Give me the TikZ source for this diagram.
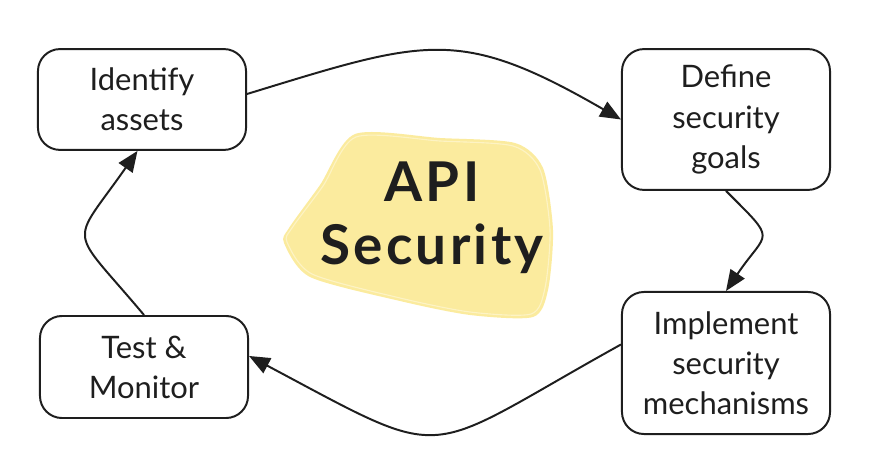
\documentclass[tikz,border=0pt]{standalone}
\usepackage{fontspec}
\setmainfont{Lato}
\usetikzlibrary{arrows.meta}
\definecolor{ink}{HTML}{1E1E1E}
\definecolor{hilite}{HTML}{FBEB9E}
\definecolor{hiliteline}{HTML}{FDF3C4}
\tikzset{
  stage/.style={draw=ink,line width=1.4pt,rounded corners=0.55cm,minimum width=5.2cm,align=center,text=ink,font=\fontsize{22}{28.5}\selectfont},
  flow/.style={draw=ink,line width=1.4pt,-{Triangle[length=5.2mm,width=4.2mm]}}
}
\begin{document}
\begin{tikzpicture}[x=0.025cm,y=0.025cm]
\useasboundingbox (0,0) rectangle (874,468);
% yellow patch behind the title
\fill[hilite] plot[smooth cycle,tension=0.45] coordinates {(355,334) (440,330) (515,325) (543,300) (553,238) (548,178) (533,151) (470,153) (400,167) (310,191) (284,225) (289,240) (320,283)};
\draw[hiliteline,line width=0.8pt] plot[smooth cycle,tension=0.45] coordinates {(356,331) (440,327) (513,322) (540,298) (550,238) (545,180) (531,154) (470,156) (400,170) (312,194) (287,226) (292,240) (323,282)};
\node[text=ink,align=center,font=\bfseries\fontsize{39}{45}\selectfont\addfontfeature{LetterSpace=6}] (core) at (432,250) {API\\Security};
\node[stage,minimum height=2.52cm] (ident) at (142,368.5) {Identify\\assets};
\node[stage,minimum height=3.52cm] (goals) at (726,348.5) {Define\\security\\goals};
\node[stage,minimum height=3.55cm] (impl) at (726,105) {Implement\\security\\mechanisms};
\node[stage,minimum height=2.55cm] (test) at (144,101) {Test \&\\Monitor};
\draw[flow] (ident.3) to[out=17,in=150,looseness=1.28] (goals.west);
\draw[flow] (goals.south) to[out=-45,in=56,looseness=1.9] (impl.north);
\draw[flow] (impl.170) to[out=-151,in=-28,looseness=1.6] (test.6);
\draw[flow] (test.north) to[out=130,in=-125,looseness=1.85] (ident.-95);
\end{tikzpicture}
\end{document}
